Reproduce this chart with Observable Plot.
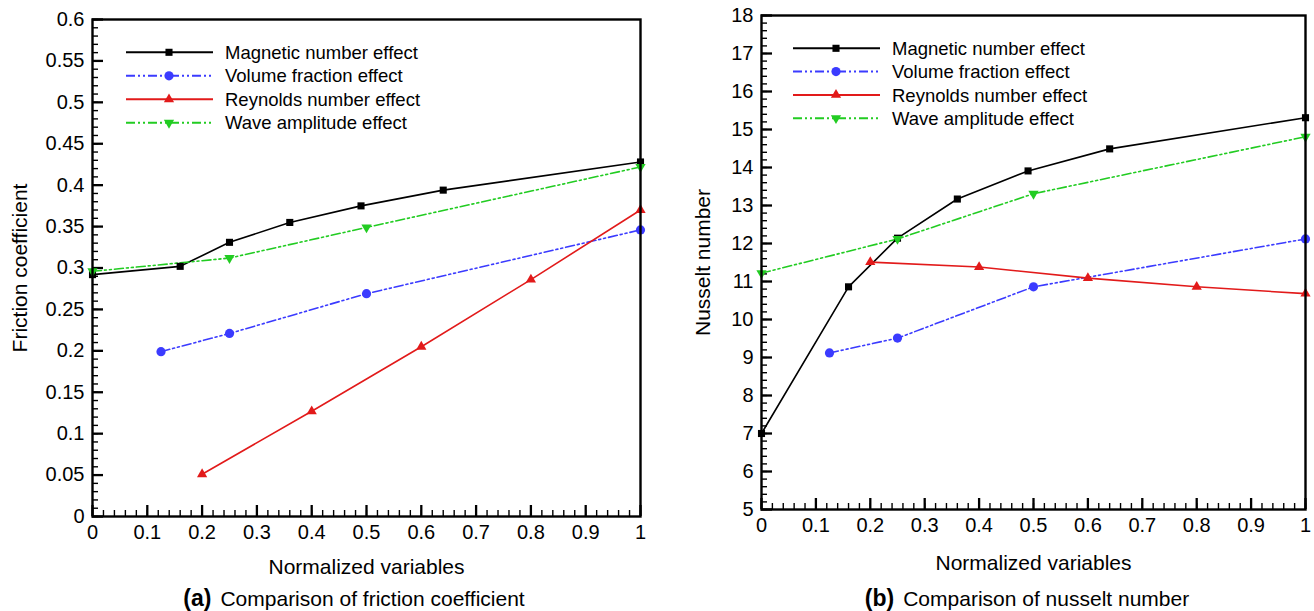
<!DOCTYPE html>
<html><head><meta charset="utf-8">
<script src="https://cdn.jsdelivr.net/npm/d3@7"></script>
<script src="https://cdn.jsdelivr.net/npm/@observablehq/plot@0.6"></script>
<style>
body{margin:0;background:#fff;}
#wrap{position:relative;width:1314px;height:611px;overflow:hidden;font-family:"Liberation Sans",Arial,sans-serif;color:#000;}
.panel{position:absolute;top:0;}
.cap{position:absolute;top:585px;font-size:21px;white-space:nowrap;transform:translateX(-50%);line-height:26px;}
.cap b{font-size:23px;margin-right:9px;}
#legend{position:absolute;left:0;top:0;pointer-events:none;}
</style></head>
<body><div id="wrap"></div>
<script>
// ---- data ----
const seriesNames = ["Magnetic number effect", "Volume fraction effect", "Reynolds number effect", "Wave amplitude effect"];
const seriesColors = ["#000000", "#3b3bff", "#e21a1a", "#22cc22"];
const seriesSymbols = ["square", "circle", "triangle", "triangle"];
const seriesRotate = [0, 0, 0, 180];
const seriesDash = [null, "9,3,2,3,2,3", null, "9,3,2,3,2,3"];
const seriesR = [4, 4.6, 3.8, 3.8];

const xMag = [0, 0.16, 0.25, 0.36, 0.49, 0.64, 1];
const xVol = [0.125, 0.25, 0.5, 1];
const xRe = [0.2, 0.4, 0.6, 0.8, 1];
const xWave = [0, 0.25, 0.5, 1];

const cfMag = [0.292, 0.302, 0.331, 0.355, 0.375, 0.394, 0.428];
const cfVol = [0.199, 0.221, 0.269, 0.346];
const cfRe = [0.051, 0.127, 0.205, 0.286, 0.37];
const cfWave = [0.296, 0.312, 0.349, 0.422];

const nuMag = [7.0, 10.86, 12.14, 13.17, 13.91, 14.49, 15.31];
const nuVol = [9.12, 9.51, 10.86, 12.12];
const nuRe = [11.51, 11.38, 11.09, 10.86, 10.68];
const nuWave = [11.22, 12.12, 13.31, 14.81];

const xTicks = [0, 0.1, 0.2, 0.3, 0.4, 0.5, 0.6, 0.7, 0.8, 0.9, 1];
const cfTicks = [0, 0.05, 0.1, 0.15, 0.2, 0.25, 0.3, 0.35, 0.4, 0.45, 0.5, 0.55, 0.6];
const nuTicks = [5, 6, 7, 8, 9, 10, 11, 12, 13, 14, 15, 16, 17, 18];

const xLabel = "Normalized variables";
const cfLabel = "Friction coefficient";
const nuLabel = "Nusselt number";
const capA = ["(a)", "Comparison of friction coefficient"];
const capB = ["(b)", "Comparison of nusselt number"];

// ---- helpers ----
const rows = (xs, ys) => xs.map((x, i) => ({x, y: ys[i]}));
const FONT = "'Liberation Sans', Arial, sans-serif";

function panel({series, yDomain, yTicks, yMinorStep, yLabel, width, height, mL, mR, mT, mB, yLabelDx, xLabelDy}) {
  const plotW = width - mL - mR, plotH = height - mT - mB;
  const xMinor = d3.range(0, 1.0001, 0.02).map(v => +v.toFixed(3));
  const yMinor = d3.range(yDomain[0], yDomain[1] + 1e-9, yMinorStep).map(v => +v.toFixed(4));
  const marks = [
    Plot.axisX({ticks: xTicks, tickSize: 0, tickPadding: 8, tickFormat: d => String(d), fontSize: 20, label: null}),
    Plot.axisY({ticks: yTicks, tickSize: 0, tickPadding: 8, tickFormat: d => String(d), fontSize: 20, label: null}),
    // inward ticks on bottom and left
    Plot.tickX(xMinor, {x: d => d, stroke: "#000", strokeWidth: 1.4, insetTop: plotH - 6}),
    Plot.tickX(xTicks, {x: d => d, stroke: "#000", strokeWidth: 2.3, insetTop: plotH - 11}),
    Plot.tickY(yMinor, {y: d => d, stroke: "#000", strokeWidth: 1.4, insetRight: plotW - 6}),
    Plot.tickY(yTicks, {y: d => d, stroke: "#000", strokeWidth: 2.3, insetRight: plotW - 11}),
    Plot.text([xLabel], {frameAnchor: "bottom", dy: xLabelDy, fontSize: 21, textAnchor: "middle", lineAnchor: "middle"}),
    Plot.text([yLabel], {frameAnchor: "left", dx: yLabelDx, rotate: -90, fontSize: 21, textAnchor: "middle", lineAnchor: "middle"})
  ];
  series.forEach((d, i) => {
    marks.push(Plot.line(d, {x: "x", y: "y", stroke: seriesColors[i], strokeWidth: 1.6, strokeDasharray: seriesDash[i]}));
  });
  series.forEach((d, i) => {
    marks.push(Plot.dot(d, {x: "x", y: "y", symbol: seriesSymbols[i], fill: seriesColors[i], stroke: "none", r: seriesR[i], rotate: seriesRotate[i]}));
  });
  marks.push(Plot.frame({stroke: "#000", strokeWidth: 2.4}));
  return Plot.plot({
    width, height,
    marginLeft: mL, marginRight: mR, marginTop: mT, marginBottom: mB,
    style: {fontFamily: FONT, fontSize: "20px", color: "#000", background: "transparent", overflow: "visible"},
    x: {domain: [0, 1], axis: null},
    y: {domain: yDomain, axis: null},
    marks
  });
}

const wrap = document.getElementById("wrap");

const left = panel({
  series: [rows(xMag, cfMag), rows(xVol, cfVol), rows(xRe, cfRe), rows(xWave, cfWave)],
  yDomain: [0, 0.6], yTicks: cfTicks, yMinorStep: 0.01, yLabel: cfLabel,
  width: 660, height: 580, mL: 92, mR: 20, mT: 19, mB: 64, yLabelDx: -72, xLabelDy: 51
});
left.classList.add("panel"); left.style.left = "0px";
wrap.appendChild(left);

const right = panel({
  series: [rows(xMag, nuMag), rows(xVol, nuVol), rows(xRe, nuRe), rows(xWave, nuWave)],
  yDomain: [5, 18], yTicks: nuTicks, yMinorStep: 0.2, yLabel: nuLabel,
  width: 654, height: 580, mL: 101, mR: 9, mT: 15, mB: 71, yLabelDx: -58, xLabelDy: 54
});
right.classList.add("panel"); right.style.left = "660px";
wrap.appendChild(right);

// ---- legends (inside each plot) ----
const leg = d3.select(wrap).append("svg").attr("id", "legend").attr("width", 1314).attr("height", 611);
function legend(x0, y0, dy) {
  seriesNames.forEach((name, i) => {
    const y = y0 + i * dy;
    const g = leg.append("g");
    g.append("line").attr("x1", x0).attr("x2", x0 + 87).attr("y1", y).attr("y2", y)
      .attr("stroke", seriesColors[i]).attr("stroke-width", 2)
      .attr("stroke-dasharray", seriesDash[i]);
    const sym = {square: d3.symbolSquare, circle: d3.symbolCircle, triangle: d3.symbolTriangle}[seriesSymbols[i]];
    g.append("path").attr("d", d3.symbol(sym, Math.PI * seriesR[i] * seriesR[i])())
      .attr("transform", `translate(${x0 + 43},${y}) rotate(${seriesRotate[i]})`)
      .attr("fill", seriesColors[i]);
    g.append("text").attr("x", x0 + 99).attr("y", y).attr("dy", "0.36em")
      .attr("font-family", FONT).attr("font-size", 18.5).attr("fill", "#000").text(name);
  });
}
legend(126, 52.3, 23.5);
legend(793, 48.3, 23.3);

// ---- captions ----
function caption(parts, cx) {
  const d = document.createElement("div");
  d.className = "cap";
  d.style.left = cx + "px";
  const b = document.createElement("b"); b.textContent = parts[0];
  d.appendChild(b);
  d.appendChild(document.createTextNode(parts[1]));
  wrap.appendChild(d);
}
caption(capA, 354);
caption(capB, 1027);
</script>
</body></html>
